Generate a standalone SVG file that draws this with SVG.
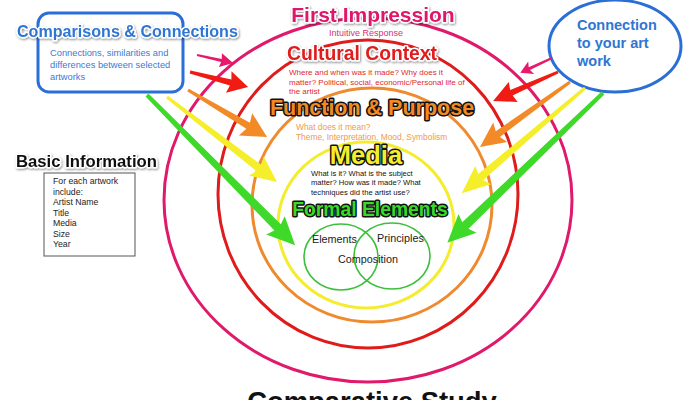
<svg xmlns="http://www.w3.org/2000/svg" width="700" height="400" viewBox="0 0 700 400">
<defs>
<filter id="sh" x="-10%" y="-30%" width="120%" height="160%">
<feDropShadow dx="0.8" dy="1.2" stdDeviation="0.8" flood-color="#000" flood-opacity="0.45"/>
</filter>
</defs>
<style>
text{font-family:"Liberation Sans",Arial,sans-serif}
.ring{fill:none;stroke-width:3}
.big{font-weight:bold;paint-order:stroke;stroke-linejoin:round}
.wout{stroke:#fff;stroke-width:3}
.bout{stroke:#111;stroke-width:3}
.sm{font-size:8px}
.venn{fill:none;stroke:#3cbf3c;stroke-width:1.6}
.vt{font-size:10.8px;fill:#222}
.arrow{stroke:none}
</style>
<rect width="700" height="400" fill="#fff"/>

<g id="first-impression">
<ellipse class="ring" cx="368" cy="200" rx="204" ry="182" stroke="#e0196b"/>
<text class="big wout" x="373" y="22" font-size="21" text-anchor="middle" fill="#e0196b" filter="url(#sh)">First Impression</text>
<text x="366" y="36" font-size="9" text-anchor="middle" fill="#d6307a">Intuitive Response</text>
</g>

<g id="cultural-context">
<ellipse class="ring" cx="368" cy="194" rx="150" ry="154" stroke="#e01b1b"/>
<text class="big wout" x="362" y="60" font-size="19.3" text-anchor="middle" fill="#e01b1b" filter="url(#sh)">Cultural Context</text>
<text class="sm" fill="#e02a2a"><tspan x="289" y="75">Where and when was it made? Why does it</tspan><tspan x="289" y="85">matter? Political, social, economic/Personal life of</tspan><tspan x="289" y="94">the artist</tspan></text>
</g>

<g id="function-purpose">
<ellipse class="ring" cx="372" cy="205" rx="120" ry="117" stroke="#ef8a2e"/>
<text class="big bout" x="372" y="115" font-size="21.5" text-anchor="middle" fill="#f08a24">Function &amp; Purpose</text>
<text font-size="8.4" fill="#ef9a4e"><tspan x="296" y="130">What does it mean?</tspan><tspan x="296" y="140">Theme, Interpretation, Mood, Symbolism</tspan></text>
</g>

<g id="media">
<ellipse class="ring" cx="366" cy="225" rx="88" ry="83" stroke="#f4ec2c"/>
<text class="big bout" x="366" y="164" font-size="25.5" text-anchor="middle" fill="#f5ee2a">Media</text>
<text font-size="7.6" fill="#111"><tspan x="311" y="176">What is it? What is the subject</tspan><tspan x="311" y="185">matter? How was it made? What</tspan><tspan x="311" y="195">techniques did the artist use?</tspan></text>
</g>

<g id="formal-elements">
<text class="big bout" x="370" y="216" font-size="19.3" text-anchor="middle" fill="#38d92a">Formal Elements</text>
<ellipse class="venn" cx="341" cy="257" rx="37" ry="33"/>
<ellipse class="venn" cx="392" cy="256" rx="38" ry="33"/>
<text class="vt" x="312" y="243">Elements</text>
<text class="vt" x="377" y="242">Principles</text>
<text class="vt" x="338" y="263">Composition</text>
</g>

<g id="comparisons-connections">
<rect x="38" y="13" width="145" height="79" rx="11" fill="#fff" stroke="#2b6fd6" stroke-width="3"/>
<text class="big wout" x="17" y="37" font-size="16.1" fill="#2f76d2" filter="url(#sh)">Comparisons &amp; Connections</text>
<text font-size="9.3" fill="#3a7ad6"><tspan x="50" y="56">Connections, similarities and</tspan><tspan x="50" y="68">differences between selected</tspan><tspan x="50" y="80">artworks</tspan></text>
</g>

<g id="connection-art">
<ellipse cx="615" cy="46" rx="66" ry="46" fill="#fff" stroke="#2b6fd6" stroke-width="3"/>
<text font-size="14.5" font-weight="bold" fill="#2f76d2"><tspan x="577" y="30">Connection</tspan><tspan x="577" y="48">to your art</tspan><tspan x="577" y="66">work</tspan></text>
</g>

<g id="basic-information">
<text class="big wout" x="16" y="167" font-size="16.7" fill="#111" filter="url(#sh)">Basic Information</text>
<rect x="44" y="173" width="91" height="83" fill="#fff" stroke="#555" stroke-width="1"/>
<text font-size="8.7" fill="#222"><tspan x="53" y="184">For each artwork</tspan><tspan x="53" y="194.5">include:</tspan><tspan x="53" y="205">Artist Name</tspan><tspan x="53" y="215.5">Title</tspan><tspan x="53" y="226">Media</tspan><tspan x="53" y="236.5">Size</tspan><tspan x="53" y="247">Year</tspan></text>
</g>

<g id="title">
<text x="372" y="411" font-size="27.4" font-weight="bold" text-anchor="middle" fill="#111">Comparative Study</text>
</g>

<g id="connectors">
<path class="arrow" fill="#e8196a" transform="translate(197,55) rotate(12.5)" d="M0,-1 L25,-1.5 L24,-7 L37,0 L24,7 L25,1.5 L0,1Z"/>
<path class="arrow" fill="#f01c14" transform="translate(190,72) rotate(14.5)" d="M0,-1.5 L42,-3 L40,-11 L60,0 L40,11 L42,3 L0,1.5Z"/>
<path class="arrow" fill="#f28a28" transform="translate(188,90) rotate(30.8)" d="M0,-1.5 L70,-3.5 L67,-13 L92,0 L67,13 L70,3.5 L0,1.5Z"/>
<path class="arrow" fill="#f5ee2a" transform="translate(167,97) rotate(37.7)" d="M0,-1.5 L116,-4 L113,-12 L139,0 L113,12 L116,4 L0,1.5Z"/>
<path class="arrow" fill="#3fd92a" transform="translate(147,95) rotate(45.4)" d="M0,-2 L186,-4.5 L183,-13 L211,0 L183,13 L186,4.5 L0,2Z"/>
<path class="arrow" fill="#e8196a" transform="translate(552,58) rotate(154.9)" d="M0,-1 L25,-1.5 L23,-7 L35,0 L23,7 L25,1.5 L0,1Z"/>
<path class="arrow" fill="#f01c14" transform="translate(558,72) rotate(156)" d="M0,-1.5 L51,-3 L49,-11 L71,0 L49,11 L51,3 L0,1.5Z"/>
<path class="arrow" fill="#f28a28" transform="translate(570,82) rotate(144.2)" d="M0,-1.5 L89,-3.5 L86,-12 L111,0 L86,12 L89,3.5 L0,1.5Z"/>
<path class="arrow" fill="#f5ee2a" transform="translate(585,88) rotate(139.5)" d="M0,-1.5 L137,-4 L134,-12 L162,0 L134,12 L137,4 L0,1.5Z"/>
<path class="arrow" fill="#3fd92a" transform="translate(603,93) rotate(136.1)" d="M0,-2 L191,-4.5 L188,-13 L216,0 L188,13 L191,4.5 L0,2Z"/>
</g>
</svg>
